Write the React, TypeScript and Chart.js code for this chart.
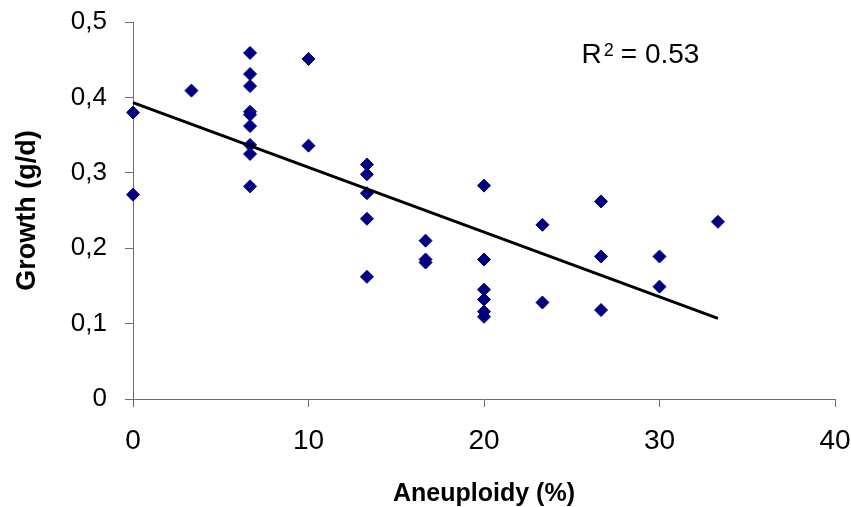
import React, { useEffect, useRef } from "react";
import { Chart, registerables } from "chart.js";

Chart.register(...registerables);

const aneuploidy: number[] = [
  0, 0,
  3.33,
  6.67, 6.67, 6.67, 6.67, 6.67, 6.67, 6.67, 6.67, 6.67,
  10, 10,
  13.33, 13.33, 13.33, 13.33, 13.33,
  16.67, 16.67, 16.67,
  20, 20, 20, 20, 20, 20,
  23.33, 23.33,
  26.67, 26.67, 26.67,
  30, 30,
  33.33,
];
const growth: number[] = [
  0.38, 0.271,
  0.409,
  0.459, 0.431, 0.415, 0.381, 0.377, 0.362, 0.337, 0.325, 0.282,
  0.451, 0.336,
  0.311, 0.298, 0.273, 0.239, 0.162,
  0.21, 0.185, 0.181,
  0.283, 0.185, 0.145, 0.132, 0.116, 0.109,
  0.231, 0.128,
  0.262, 0.189, 0.118,
  0.189, 0.149,
  0.235,
];
const trendX: number[] = [0, 33.33];
const trendY: number[] = [0.393, 0.107];
const yTickLabels: string[] = ["0", "0,1", "0,2", "0,3", "0,4", "0,5"];
const xTickLabels: string[] = ["0", "10", "20", "30", "40"];
const rSquaredText = "0.53";

const FONT = '"Liberation Sans", Arial, sans-serif';

const r2Plugin = {
  id: "r2label",
  afterDraw(chart: any) {
    const { ctx, chartArea } = chart;
    const w = chartArea.right - chartArea.left;
    const h = chartArea.bottom - chartArea.top;
    const x0 = chartArea.left + w * 0.639;
    const base = chartArea.top + h * 0.108;
    ctx.save();
    ctx.fillStyle = "#000";
    ctx.textBaseline = "alphabetic";
    ctx.textAlign = "left";
    ctx.font = `28px ${FONT}`;
    ctx.fillText("R", x0, base);
    const rw = ctx.measureText("R").width;
    ctx.font = `18px ${FONT}`;
    ctx.fillText("2", x0 + rw + 2, base - 7);
    const sw = ctx.measureText("2").width;
    ctx.font = `28px ${FONT}`;
    ctx.fillText("= " + rSquaredText, x0 + rw + sw + 9, base);
    ctx.restore();
  },
};

export default function App() {
  const ref = useRef<HTMLCanvasElement | null>(null);
  useEffect(() => {
    if (!ref.current) return;
    const points = aneuploidy.map((x, i) => ({ x, y: growth[i] }));
    const trend = trendX.map((x, i) => ({ x, y: trendY[i] }));
    const axisColor = "#6e6e6e";
    const chart = new Chart(ref.current, {
      type: "scatter",
      data: {
        datasets: [
          {
            label: "Trend",
            data: trend,
            showLine: true,
            borderColor: "#000",
            borderWidth: 3,
            pointRadius: 0,
            pointHoverRadius: 0,
            clip: false,
          } as any,
          {
            label: "Growth",
            data: points,
            pointStyle: "rectRot",
            pointRadius: 6.5,
            pointHoverRadius: 6.5,
            backgroundColor: "#000080",
            borderColor: "#000080",
            borderWidth: 1,
            clip: false,
          } as any,
        ],
      },
      options: {
        animation: false,
        responsive: true,
        maintainAspectRatio: false,
        layout: { padding: { top: 22, right: 16, left: 0, bottom: 0 } },
        plugins: {
          legend: { display: false },
          tooltip: { enabled: false },
        },
        scales: {
          x: {
            type: "linear",
            min: 0,
            max: 40,
            afterFit: (s: any) => {
              s.height = 108;
              s.paddingLeft = 0;
              s.paddingRight = 0;
            },
            ticks: {
              stepSize: 10,
              color: "#000",
              padding: 17,
              font: { family: FONT, size: 28 },
              callback: (v: any, i: number) => xTickLabels[i] ?? String(v),
              maxRotation: 0,
            },
            grid: {
              drawOnChartArea: false,
              drawTicks: true,
              tickLength: 8,
              color: axisColor,
            },
            border: { display: true, color: axisColor, width: 1 },
            title: {
              display: true,
              text: "Aneuploidy (%)",
              color: "#000",
              font: { family: FONT, size: 25, weight: "bold", lineHeight: 1 },
              padding: { top: 0, bottom: 0 },
            },
          },
          y: {
            type: "linear",
            min: 0,
            max: 0.5,
            afterFit: (s: any) => {
              s.width = 133;
              s.paddingTop = 0;
              s.paddingBottom = 0;
            },
            ticks: {
              stepSize: 0.1,
              color: "#000",
              padding: 18,
              font: { family: FONT, size: 26 },
              callback: (v: any, i: number) => yTickLabels[i] ?? String(v),
            },
            grid: {
              drawOnChartArea: false,
              drawTicks: true,
              tickLength: 8,
              color: axisColor,
            },
            border: { display: true, color: axisColor, width: 1 },
            title: {
              display: true,
              text: "Growth (g/d)",
              color: "#000",
              font: { family: FONT, size: 27, weight: "bold" },
              padding: { top: 11, bottom: 0 },
            },
          },
        },
      },
      plugins: [r2Plugin],
    });
    return () => chart.destroy();
  }, []);

  return (
    <div
      style={{
        position: "absolute",
        left: 0,
        top: 0,
        width: 851,
        height: 507,
        background: "#fff",
      }}
    >
      <canvas ref={ref} />
    </div>
  );
}
